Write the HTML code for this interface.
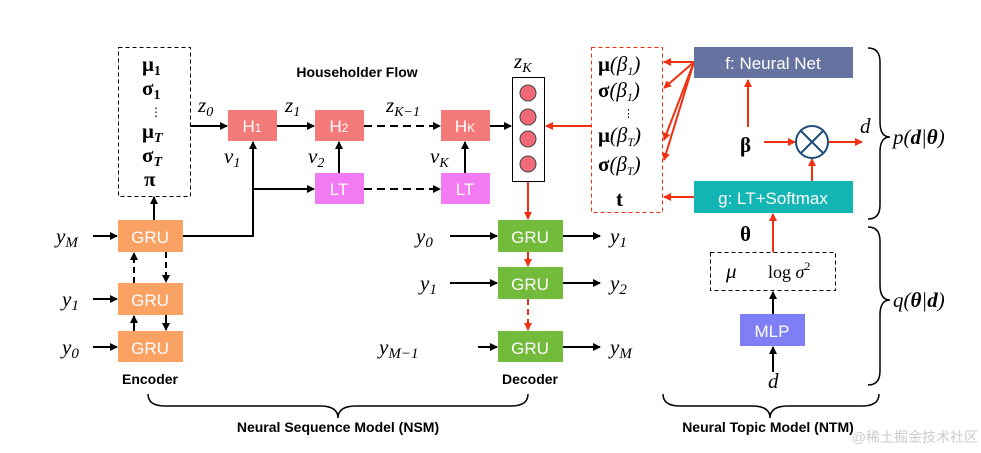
<!DOCTYPE html>
<html><head><meta charset="utf-8"><style>
body{margin:0;background:#fff}
svg{display:block}
.m{font-family:"Liberation Serif",serif;font-style:italic;font-size:21px}
.b{font-family:"Liberation Serif",serif;font-weight:bold;font-size:21px}
.s{font-family:"Liberation Sans",sans-serif;fill:#fff;font-size:17px;text-anchor:middle}
.t{font-family:"Liberation Sans",sans-serif;font-weight:bold;font-size:14px;text-anchor:middle}
</style></head><body>
<svg width="981" height="453" viewBox="0 0 981 453">
<defs>
<marker id="a" markerWidth="8" markerHeight="8" refX="7" refY="4" orient="auto" markerUnits="userSpaceOnUse"><path d="M0,0 L8,4 L0,8 z" fill="#000"/></marker>
<marker id="r" markerWidth="8" markerHeight="8" refX="7" refY="4" orient="auto" markerUnits="userSpaceOnUse"><path d="M0,0 L8,4 L0,8 z" fill="#f03010"/></marker>
</defs>
<rect x="118.5" y="47.5" width="72" height="149" fill="none" stroke="#000" stroke-dasharray="4,3"/>
<text x="142" y="71" class="b">μ<tspan font-size="14" dy="4">1</tspan></text>
<text x="142" y="95" class="b">σ<tspan font-size="14" dy="4">1</tspan></text>
<text x="150" y="116" font-size="12" font-family="Liberation Sans">⋮</text>
<text x="142" y="138" class="b">μ<tspan font-size="14" dy="4" font-style="italic">T</tspan></text>
<text x="142" y="162" class="b">σ<tspan font-size="14" dy="4" font-style="italic">T</tspan></text>
<text x="144" y="186" class="b" font-size="23">π</text>
<text x="357" y="77" class="t" font-size="15">Householder Flow</text>
<rect x="228" y="110" width="49" height="31" fill="#f47a7a"/><text x="252" y="132" class="s">H<tspan font-size="12">1</tspan></text>
<rect x="315" y="110" width="49" height="31" fill="#f47a7a"/><text x="339" y="132" class="s">H<tspan font-size="12">2</tspan></text>
<rect x="441" y="110" width="49" height="31" fill="#f47a7a"/><text x="465" y="132" class="s">H<tspan font-size="12">K</tspan></text>
<rect x="315" y="173" width="49" height="31" fill="#f27af2"/><text x="339" y="195" class="s">LT</text>
<rect x="441" y="173" width="49" height="31" fill="#f27af2"/><text x="465" y="195" class="s">LT</text>
<g stroke="#000" stroke-width="2" fill="none">
<line x1="190" y1="126" x2="227" y2="126" marker-end="url(#a)"/>
<line x1="277" y1="126" x2="314" y2="126" marker-end="url(#a)"/>
<line x1="364" y1="126" x2="440" y2="126" stroke-dasharray="8,5" marker-end="url(#a)"/>
<line x1="490" y1="126" x2="511" y2="126" marker-end="url(#a)"/>
<line x1="364" y1="189" x2="440" y2="189" stroke-dasharray="8,5" marker-end="url(#a)"/>
<line x1="339" y1="173" x2="339" y2="142" marker-end="url(#a)"/>
<line x1="465" y1="173" x2="465" y2="142" marker-end="url(#a)"/>
<polyline points="183,236 253,236 253,142" marker-end="url(#a)"/>
<line x1="253" y1="189" x2="314" y2="189" marker-end="url(#a)"/>
<line x1="154" y1="220" x2="154" y2="197" marker-end="url(#a)"/>
<line x1="93" y1="236" x2="117" y2="236" marker-end="url(#a)"/>
<line x1="93" y1="299" x2="117" y2="299" marker-end="url(#a)"/>
<line x1="93" y1="347" x2="117" y2="347" marker-end="url(#a)"/>
<line x1="134" y1="283" x2="134" y2="253" stroke-dasharray="6,4" marker-end="url(#a)"/>
<line x1="166" y1="252" x2="166" y2="282" stroke-dasharray="6,4" marker-end="url(#a)"/>
<line x1="134" y1="331" x2="134" y2="316" marker-end="url(#a)"/>
<line x1="166" y1="315" x2="166" y2="330" marker-end="url(#a)"/>
<line x1="450" y1="236" x2="497" y2="236" marker-end="url(#a)"/>
<line x1="450" y1="283" x2="497" y2="283" marker-end="url(#a)"/>
<line x1="478" y1="347" x2="497" y2="347" marker-end="url(#a)"/>
<line x1="563" y1="236" x2="600" y2="236" marker-end="url(#a)"/>
<line x1="563" y1="283" x2="600" y2="283" marker-end="url(#a)"/>
<line x1="563" y1="347" x2="600" y2="347" marker-end="url(#a)"/>
<line x1="773" y1="372" x2="773" y2="347" marker-end="url(#a)"/>
<line x1="773" y1="314" x2="773" y2="292" marker-end="url(#a)"/>
</g>
<text x="198" y="112" class="m">z<tspan font-size="14" dy="4">0</tspan></text>
<text x="285" y="112" class="m">z<tspan font-size="14" dy="4">1</tspan></text>
<text x="386" y="112" class="m">z<tspan font-size="14" dy="4">K−1</tspan></text>
<text x="224" y="163" class="m">v<tspan font-size="14" dy="4">1</tspan></text>
<text x="308" y="163" class="m">v<tspan font-size="14" dy="4">2</tspan></text>
<text x="430" y="163" class="m">v<tspan font-size="14" dy="4">K</tspan></text>
<rect x="118" y="220" width="65" height="32" fill="#f9a263"/><text x="150" y="243" class="s">GRU</text>
<rect x="118" y="283" width="65" height="32" fill="#f9a263"/><text x="150" y="306" class="s">GRU</text>
<rect x="118" y="331" width="65" height="31" fill="#f9a263"/><text x="150" y="354" class="s">GRU</text>
<text x="56" y="243" class="m" font-size="24">y<tspan font-size="15" dy="4">M</tspan></text>
<text x="62" y="306" class="m" font-size="24">y<tspan font-size="15" dy="4">1</tspan></text>
<text x="62" y="354" class="m" font-size="24">y<tspan font-size="15" dy="4">0</tspan></text>
<text x="150" y="384" class="t">Encoder</text>
<text x="514" y="68" class="m">z<tspan font-size="14" dy="4">K</tspan></text>
<rect x="512.5" y="77.5" width="32" height="104" fill="#fff" stroke="#000"/>
<g fill="#f06a7c" stroke="#444"><circle cx="528" cy="93" r="8"/><circle cx="528" cy="117" r="8"/><circle cx="528" cy="139" r="8"/><circle cx="528" cy="164" r="8"/></g>
<rect x="498" y="220" width="65" height="32" fill="#73bb3a"/><text x="530" y="243" class="s">GRU</text>
<rect x="498" y="267" width="65" height="32" fill="#73bb3a"/><text x="530" y="290" class="s">GRU</text>
<rect x="498" y="331" width="65" height="31" fill="#73bb3a"/><text x="530" y="354" class="s">GRU</text>
<text x="416" y="243" class="m" font-size="24">y<tspan font-size="15" dy="4">0</tspan></text>
<text x="420" y="290" class="m" font-size="24">y<tspan font-size="15" dy="4">1</tspan></text>
<text x="379" y="354" class="m" font-size="24">y<tspan font-size="15" dy="4">M−1</tspan></text>
<text x="610" y="243" class="m" font-size="24">y<tspan font-size="15" dy="4">1</tspan></text>
<text x="610" y="290" class="m" font-size="24">y<tspan font-size="15" dy="4">2</tspan></text>
<text x="610" y="354" class="m" font-size="24">y<tspan font-size="15" dy="4">M</tspan></text>
<text x="530" y="384" class="t">Decoder</text>
<g stroke="#f03010" stroke-width="2" fill="none">
<line x1="528" y1="182" x2="528" y2="219" marker-end="url(#r)"/>
<line x1="528" y1="252" x2="528" y2="266" marker-end="url(#r)"/>
<line x1="528" y1="299" x2="528" y2="330" stroke-dasharray="6,4" marker-end="url(#r)"/>
<line x1="591" y1="126" x2="546" y2="126" marker-end="url(#r)"/>
<line x1="694" y1="62" x2="664" y2="62" marker-end="url(#r)"/>
<line x1="694" y1="62" x2="664" y2="88" marker-end="url(#r)"/>
<line x1="694" y1="62" x2="664" y2="140" marker-end="url(#r)"/>
<line x1="694" y1="62" x2="664" y2="160" marker-end="url(#r)"/>
<line x1="694" y1="197" x2="664" y2="197" marker-end="url(#r)"/>
<line x1="748" y1="127" x2="748" y2="80" marker-end="url(#r)"/>
<line x1="764" y1="142" x2="795" y2="142" marker-end="url(#r)"/>
<line x1="828" y1="142" x2="862" y2="142" marker-end="url(#r)"/>
<line x1="812" y1="181" x2="812" y2="159" marker-end="url(#r)"/>
<line x1="773" y1="252" x2="773" y2="214" marker-end="url(#r)"/>
</g>
<rect x="591.5" y="47.5" width="71" height="165" fill="none" stroke="#f03010" stroke-dasharray="4,3"/>
<text x="598" y="71" class="b" font-size="18">μ<tspan font-weight="normal" font-style="italic">(β<tspan font-size="12" dy="4">1</tspan><tspan dy="-4">)</tspan></tspan></text>
<text x="598" y="97" class="b" font-size="18">σ<tspan font-weight="normal" font-style="italic">(β<tspan font-size="12" dy="4">1</tspan><tspan dy="-4">)</tspan></tspan></text>
<text x="623" y="117" font-size="11" font-family="Liberation Sans">⋮</text>
<text x="598" y="142" class="b" font-size="18">μ<tspan font-weight="normal" font-style="italic">(β<tspan font-size="12" dy="4">T</tspan><tspan dy="-4">)</tspan></tspan></text>
<text x="598" y="171" class="b" font-size="18">σ<tspan font-weight="normal" font-style="italic">(β<tspan font-size="12" dy="4">T</tspan><tspan dy="-4">)</tspan></tspan></text>
<text x="616" y="206" class="b" font-size="24">t</text>
<rect x="694" y="47" width="159" height="31" fill="#66729f"/><text x="773" y="69" class="s">f: Neural Net</text>
<rect x="694" y="181" width="159" height="32" fill="#13b5b5"/><text x="773" y="204" class="s">g: LT+Softmax</text>
<circle cx="812" cy="142" r="16" fill="#fff" stroke="#1f4e79" stroke-width="2"/>
<line x1="801" y1="131" x2="823" y2="153" stroke="#1f4e79" stroke-width="2"/><line x1="823" y1="131" x2="801" y2="153" stroke="#1f4e79" stroke-width="2"/>
<text x="740" y="152" class="b" font-size="24">β</text>
<text x="860" y="133" class="m">d</text>
<text x="740" y="241" class="b" font-size="22">θ</text>
<rect x="710.5" y="252.5" width="125" height="38" fill="none" stroke="#000" stroke-dasharray="4,3"/>
<text x="726" y="278" class="m">μ</text><text x="768" y="278" font-family="Liberation Serif" font-size="18">log <tspan font-style="italic">σ</tspan><tspan font-size="12" dy="-8">2</tspan></text>
<rect x="740" y="314" width="65" height="32" fill="#7f7ff5"/><text x="772" y="337" class="s">MLP</text>
<text x="768" y="388" class="m">d</text>
<g stroke="#000" stroke-width="1.5" fill="none">
<path d="M868,48 Q880,48 880,62 L880,122 Q880,137 890,137 Q880,137 880,152 L880,205 Q880,219 868,219"/>
<path d="M868,227 Q880,227 880,241 L880,285 Q880,300 890,300 Q880,300 880,315 L880,371 Q880,385 868,385"/>
<path d="M148,394 Q148,406 165,406 L320,406 Q338,406 338,418 Q338,406 356,406 L511,406 Q528,406 528,394"/>
<path d="M663,394 Q663,406 680,406 L752,406 Q770,406 770,418 Q770,406 788,406 L862,406 Q879,406 879,394"/>
</g>
<text x="893" y="144" font-family="Liberation Serif" font-size="21" font-style="italic">p(<tspan font-weight="bold">d</tspan>|<tspan font-weight="bold">θ</tspan>)</text>
<text x="893" y="307" font-family="Liberation Serif" font-size="21" font-style="italic">q(<tspan font-weight="bold">θ</tspan>|<tspan font-weight="bold">d</tspan>)</text>
<text x="338" y="432" class="t">Neural Sequence Model (NSM)</text>
<text x="768" y="432" class="t">Neural Topic Model (NTM)</text>
<text x="978" y="442" font-family="Liberation Sans,Noto Sans CJK SC,sans-serif" font-size="14" fill="#ccc" text-anchor="end">@稀土掘金技术社区</text>
</svg>
</body></html>
